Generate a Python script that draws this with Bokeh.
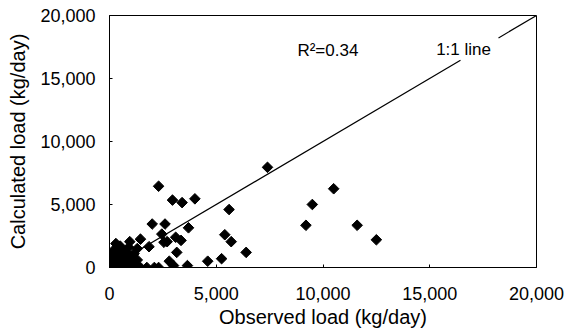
from bokeh.plotting import figure
from bokeh.models import ColumnDataSource, FixedTicker, NumeralTickFormatter
from bokeh.core.properties import value
from bokeh.embed import file_html
from bokeh.resources import INLINE

# Observed vs calculated load (kg/day)
observed = [
    2300, 2950, 3400, 4000, 5600, 2000, 2600, 3700, 2450, 1450, 950, 3100, 3350,
    2550, 2700, 1850, 3150, 5400, 5700, 6400, 5250, 4600, 3650, 2800, 3000, 1450,
    1750, 2100, 2300, 7400, 10500, 9500, 9200, 11600, 12500,
    100, 150, 200, 250, 300, 350, 400, 450, 500, 550, 600, 650, 700, 750, 800, 850,
    900, 950, 1000, 1100, 1150, 1250, 1300, 50, 100, 200, 400, 700, 1000, 1200, 500,
    300, 150, 1300, 600, 350, 800,
]
calculated = [
    6450, 5350, 5150, 5450, 4600, 3450, 3450, 3150, 2650, 2250, 2050, 2400, 2150,
    2000, 2050, 1650, 1200, 2600, 2050, 1200, 700, 500, 150, 500, 150, 0,
    0, 0, 0, 7950, 6250, 5000, 3350, 3350, 2200,
    0, 300, 800, 1100, 500, 1500, 200, 900, 1300, 600, 100, 1000, 400, 1200, 700, 50,
    1600, 300, 900, 500, 1100, 200, 600, 500, 900, 50, 0, 0, 0, 0, 1700,
    1900, 1300, 1500, 1400, 700, 0,
]
axis_ticks = [0, 5000, 10000, 15000, 20000]
line_lower = ([0, 16440], [0, 16440])
line_upper = ([18220, 20000], [18220, 20000])
r2_label = "R²=0.34"
line_label = "1:1 line"

p = figure(width=577, height=334, x_range=(0, 20000), y_range=(0, 20000),
           output_backend="svg", toolbar_location=None,
           min_border_left=109, min_border_right=41, min_border_top=15,
           min_border_bottom=67)
p.background_fill_color = "white"
p.border_fill_color = "white"
p.outline_line_color = "black"
p.xgrid.visible = False
p.ygrid.visible = False

font = "Liberation Sans"
for ax in (p.xaxis[0], p.yaxis[0]):
    ax.ticker = FixedTicker(ticks=axis_ticks)
    ax.formatter = NumeralTickFormatter(format="0,0")
    ax.minor_tick_line_color = None
    ax.major_tick_out = 0
    ax.major_tick_in = 3
    ax.axis_line_color = "black"
    ax.major_label_text_font = font
    ax.major_label_text_font_size = "18px"
    ax.major_label_text_color = "black"
    ax.axis_label_text_font = font
    ax.axis_label_text_font_size = "20px"
    ax.axis_label_text_font_style = "normal"
    ax.axis_label_text_color = "black"

p.xaxis.axis_label = "Observed load (kg/day)"
p.yaxis.axis_label = "Calculated load (kg/day)"
p.xaxis.major_label_standoff = 19
p.xaxis.axis_label_standoff = 3
p.yaxis.major_label_standoff = 14
p.yaxis.axis_label_standoff = 8

p.line(line_lower[0], line_lower[1], line_color="black", line_width=1.2)
p.line(line_upper[0], line_upper[1], line_color="black", line_width=1.2)

src = ColumnDataSource(dict(x=observed, y=calculated))
p.scatter("x", "y", source=src, marker="square", angle=0.785, size=7.5,
          fill_color="black", line_color="black")

p.text(x=[8800], y=[17200], text=[r2_label], text_font=value(font),
       text_font_size="17px", text_baseline="alphabetic", text_align="left",
       text_color="black")
p.text(x=[15300], y=[17300], text=[line_label], text_font=value(font),
       text_font_size="17px", text_baseline="middle", text_align="left",
       text_color="black")

open("out.html", "w").write(file_html(p, INLINE))
